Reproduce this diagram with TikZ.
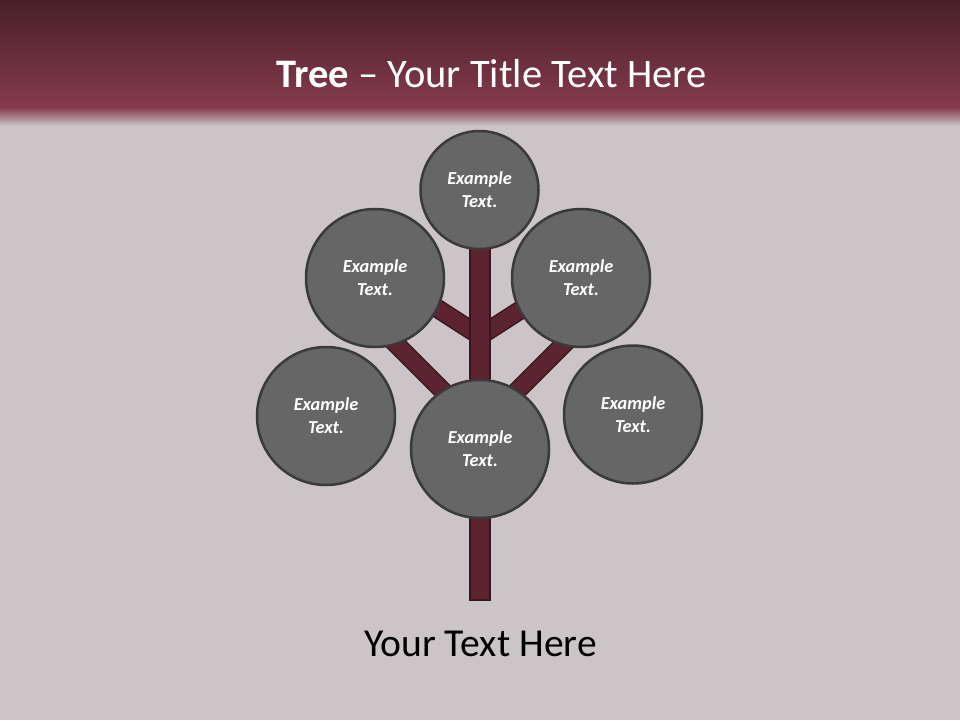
\documentclass[tikz,border=0pt]{standalone}
\usepackage{fontspec}
\setmainfont{Carlito}
\definecolor{bg}{HTML}{CBC5C7}
\definecolor{hdrtop}{HTML}{4A2029}
\definecolor{hdrbot}{HTML}{853B4C}
\definecolor{brfill}{HTML}{5C2430}
\definecolor{brdark}{HTML}{3A161E}
\definecolor{cfill}{HTML}{666666}
\definecolor{cborder}{HTML}{3A3A3A}
\tikzset{
  branch/.style={draw=brdark, line width=1.5pt, double=brfill, double distance=16pt},
  trunkbox/.style={rectangle, draw=brdark, line width=1.5pt, fill=brfill, minimum width=20pt, inner sep=0pt},
  leaf/.style={circle, draw=cborder, line width=2.5pt, fill=cfill, text=white, align=center, inner sep=0pt,
    font=\bfseries\itshape\fontsize{18.3}{23}\selectfont, minimum size=138pt},
  toptitle/.style={text=white, font=\fontsize{40.5}{48}\selectfont, anchor=base, inner sep=0pt},
  bottomtext/.style={text=black, font=\fontsize{39.6}{46}\selectfont, anchor=base, inner sep=0pt}
}
\begin{document}
\begin{tikzpicture}[x=1pt,y=-1pt]
\useasboundingbox (0,0) rectangle (960,720);
\fill[bg] (0,0) rectangle (960,720);
\shade[top color=hdrtop, bottom color=hdrbot] (0,0) rectangle (960,108);
\shade[top color=hdrbot, bottom color=bg] (0,107.5) rectangle (960,126);

\node[toptitle] (title) at (491.5,87) {\textbf{Tree} -- Your Title Text Here};

% branch junctions and ends
\coordinate (jU) at (480,336);
\coordinate (jL) at (480,428);
\coordinate (ulEnd) at (404,287);
\coordinate (urEnd) at (556,287);
\coordinate (llEnd) at (385,333);
\coordinate (lrEnd) at (575,333);

\draw[branch] (jU) -- (ulEnd);
\draw[branch] (jU) -- (urEnd);
\draw[branch] (jL) -- (llEnd);
\draw[branch] (jL) -- (lrEnd);

\node[trunkbox, minimum height=355pt] (trunk) at (480,422.5) {};

\node[leaf, minimum size=118pt] (top) at (479.5,190) {Example\\Text.};
\node[leaf] (ul) at (375,278) {Example\\Text.};
\node[leaf] (ur) at (581,278) {Example\\Text.};
\node[leaf] (ll) at (326,416) {Example\\Text.};
\node[leaf] (lr) at (633,414.5) {Example\\Text.};
\node[leaf] (bot) at (480,449) {Example\\Text.};

\node[bottomtext] (caption) at (480.5,656) {Your Text Here};
\end{tikzpicture}
\end{document}
